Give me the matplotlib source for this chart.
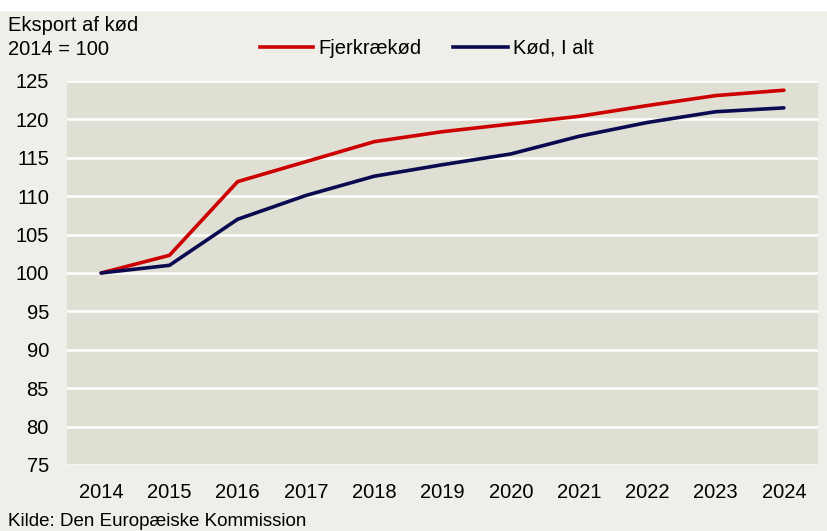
import matplotlib
matplotlib.use("Agg")
import matplotlib.pyplot as plt
from matplotlib.lines import Line2D

plt.rcParams['font.family'] = ['Liberation Sans', 'DejaVu Sans']

years = ['2014', '2015', '2016', '2017', '2018', '2019', '2020', '2021', '2022', '2023', '2024']
fjerkraekoed = [100.0, 102.3, 111.9, 114.5, 117.1, 118.4, 119.4, 120.4, 121.8, 123.1, 123.8]
koed_i_alt = [100.0, 101.0, 107.0, 110.1, 112.6, 114.1, 115.5, 117.8, 119.6, 121.0, 121.5]
yticks = [75, 80, 85, 90, 95, 100, 105, 110, 115, 120, 125]

W, H = 827, 531
FS = 14.5
fig = plt.figure(figsize=(W / 100, H / 100), dpi=100)
fig.patch.set_facecolor('white')
bg = plt.Rectangle((0, 0), 1, 1 - 11 / H, transform=fig.transFigure,
                   facecolor='#EFEEE8', edgecolor='none', zorder=-10)
fig.patches.append(bg)

left, right = 67 / W, 818 / W
top, bottom = 1 - 81 / H, 1 - 465 / H
ax = fig.add_axes([left, bottom, right - left, top - bottom])
ax.set_facecolor('#E0DFD4')

x = list(range(len(years)))
ax.plot(x, fjerkraekoed, color='#CC0000', lw=2.6, solid_capstyle='round', zorder=3)
ax.plot(x, koed_i_alt, color='#0A0A50', lw=2.6, solid_capstyle='round', zorder=3)

ax.set_xlim(-0.5, len(years) - 0.5)
ax.set_ylim(75, 125)
ax.set_yticks(yticks)
ax.set_yticklabels([str(v) for v in yticks], fontsize=FS)
ax.set_xticks(x)
ax.set_xticklabels(years, fontsize=FS)
ax.tick_params(axis='both', length=0, colors='black')
ax.tick_params(axis='y', pad=13)
ax.tick_params(axis='x', pad=13)
ax.grid(axis='y', color='white', lw=1.8, zorder=1)
ax.set_axisbelow(True)
for s in ax.spines.values():
    s.set_visible(False)

fig.text(8 / W, 1 - 31 / H, 'Eksport af kød', fontsize=FS, va='baseline', ha='left')
fig.text(8 / W, 1 - 55 / H, '2014 = 100', fontsize=FS, va='baseline', ha='left')

ly = 1 - 46.5 / H
fig.add_artist(Line2D([260 / W, 313 / W], [ly, ly], color='#CC0000', lw=2.6,
                      transform=fig.transFigure))
fig.text(318 / W, 1 - 54 / H, 'Fjerkrækød', fontsize=FS, va='baseline', ha='left')
fig.add_artist(Line2D([453 / W, 508 / W], [ly, ly], color='#0A0A50', lw=2.6,
                      transform=fig.transFigure))
fig.text(513 / W, 1 - 54 / H, 'Kød, I alt', fontsize=FS, va='baseline', ha='left')

fig.text(8 / W, 1 - 526 / H, 'Kilde: Den Europæiske Kommission', fontsize=FS - 1, va='baseline', ha='left')

fig.savefig('out.png', dpi=100, facecolor=fig.get_facecolor())
